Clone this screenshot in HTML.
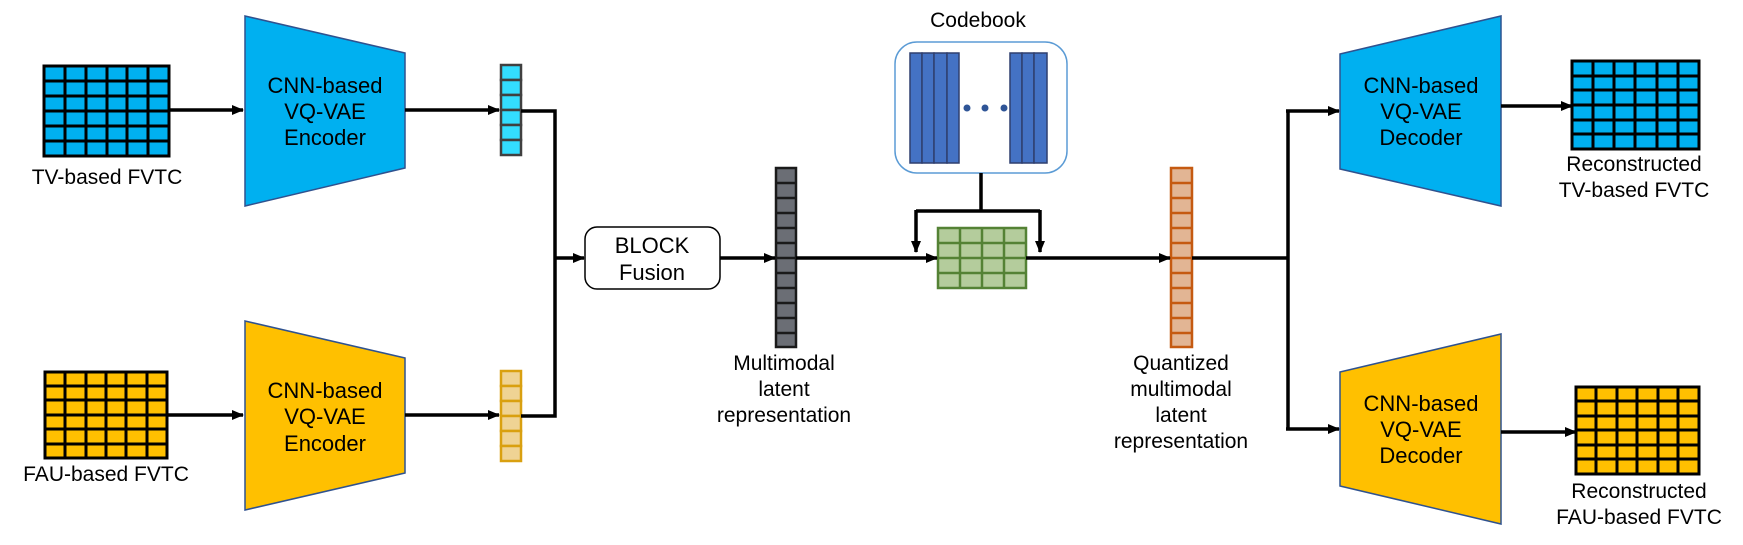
<!DOCTYPE html>
<html><head><meta charset="utf-8"><style>
html,body{margin:0;padding:0;background:#fff;}
svg{display:block;}
text{font-family:"Liberation Sans",sans-serif;font-size:21px;fill:#000;text-anchor:middle;}
.t{font-size:22px;}
</style></head><body>
<svg width="1743" height="545" viewBox="0 0 1743 545" xmlns="http://www.w3.org/2000/svg">
<defs>
<marker id="a" markerWidth="12" markerHeight="10" refX="11" refY="5" orient="auto" markerUnits="userSpaceOnUse">
<path d="M0,0 L12,5 L0,10 Z" fill="#000"/></marker>
<pattern id="gb" x="44" y="66" width="20.8" height="15" patternUnits="userSpaceOnUse"><rect width="20.8" height="15" fill="#00b0f0" stroke="#000" stroke-width="3"/></pattern>
</defs>

<!-- TV grid -->
<g stroke="#000" stroke-width="3">
<rect x="44" y="66" width="125" height="90" fill="#00b0f0"/>
<path d="M65 66V156M86 66V156M107 66V156M127 66V156M148 66V156M44 81H169M44 96H169M44 111H169M44 126H169M44 141H169"/>
<rect x="45" y="372" width="122" height="86" fill="#ffc000"/>
<path d="M65 372V458M86 372V458M106 372V458M126 372V458M147 372V458M45 386H167M45 400H167M45 415H167M45 429H167M45 444H167"/>
<rect x="1572" y="61" width="127" height="88" fill="#00b0f0"/>
<path d="M1593 61V149M1614 61V149M1635 61V149M1657 61V149M1678 61V149M1572 76H1699M1572 90H1699M1572 105H1699M1572 120H1699M1572 134H1699"/>
<rect x="1576" y="387" width="123" height="87" fill="#ffc000"/>
<path d="M1596 387V474M1617 387V474M1637 387V474M1658 387V474M1678 387V474M1576 401H1699M1576 416H1699M1576 430H1699M1576 445H1699M1576 459H1699"/>
</g>
<text x="107" y="184">TV-based FVTC</text>
<text x="106" y="481">FAU-based FVTC</text>
<text x="1634" y="171">Reconstructed</text>
<text x="1634" y="197">TV-based FVTC</text>
<text x="1639" y="498">Reconstructed</text>
<text x="1639" y="524">FAU-based FVTC</text>

<!-- encoders / decoders -->
<g stroke="#2f528f" stroke-width="1.5">
<polygon points="245,16 405,53 405,168 245,206" fill="#00b0f0"/>
<polygon points="245,321 405,358 405,473 245,510" fill="#ffc000"/>
<polygon points="1340,54 1501,16 1501,206 1340,169" fill="#00b0f0"/>
<polygon points="1340,372 1501,334 1501,524 1340,486" fill="#ffc000"/>
</g>
<text class="t" x="325" y="93">CNN-based</text><text class="t" x="325" y="119">VQ-VAE</text><text class="t" x="325" y="145">Encoder</text>
<text class="t" x="325" y="398">CNN-based</text><text class="t" x="325" y="424">VQ-VAE</text><text class="t" x="325" y="451">Encoder</text>
<text class="t" x="1421" y="93">CNN-based</text><text class="t" x="1421" y="119">VQ-VAE</text><text class="t" x="1421" y="145">Decoder</text>
<text class="t" x="1421" y="411">CNN-based</text><text class="t" x="1421" y="437">VQ-VAE</text><text class="t" x="1421" y="463">Decoder</text>

<!-- small vectors -->
<g stroke="#404040" stroke-width="2.5" fill="#33ddff">
<rect x="501" y="65" width="20" height="15"/><rect x="501" y="80" width="20" height="15"/><rect x="501" y="95" width="20" height="15"/><rect x="501" y="110" width="20" height="15"/><rect x="501" y="125" width="20" height="15"/><rect x="501" y="140" width="20" height="15"/>
</g>
<g stroke="#d9a010" stroke-width="2.5" fill="#efd394">
<rect x="501" y="371" width="20" height="15"/><rect x="501" y="386" width="20" height="15"/><rect x="501" y="401" width="20" height="15"/><rect x="501" y="416" width="20" height="15"/><rect x="501" y="431" width="20" height="15"/><rect x="501" y="446" width="20" height="15"/>
</g>

<!-- gray vector -->
<g stroke="#1a1a1a" stroke-width="2.5" fill="#6b6e75">
<rect x="776" y="168" width="20" height="179"/>
<path d="M776 183H796M776 198H796M776 213H796M776 228H796M776 243H796M776 258H796M776 273H796M776 288H796M776 303H796M776 318H796M776 333H796" fill="none"/>
</g>
<text x="784" y="370">Multimodal</text><text x="784" y="396">latent</text><text x="784" y="422">representation</text>

<!-- orange vector -->
<g stroke="#c55a11" stroke-width="2.5" fill="#e2b594">
<rect x="1171" y="168" width="21" height="179"/>
<path d="M1171 183H1192M1171 198H1192M1171 213H1192M1171 228H1192M1171 243H1192M1171 258H1192M1171 273H1192M1171 288H1192M1171 303H1192M1171 318H1192M1171 333H1192" fill="none"/>
</g>
<text x="1181" y="370">Quantized</text><text x="1181" y="396">multimodal</text><text x="1181" y="422">latent</text><text x="1181" y="448">representation</text>

<!-- BLOCK -->
<rect x="585" y="227" width="135" height="62" rx="12" fill="#fff" stroke="#000" stroke-width="1.5"/>
<text class="t" x="652" y="253">BLOCK</text><text class="t" x="652" y="280">Fusion</text>

<!-- codebook -->
<text x="978" y="27">Codebook</text>
<rect x="895" y="42" width="172" height="131" rx="22" fill="#fff" stroke="#5b9bd5" stroke-width="1.5"/>
<g stroke="#2f3f6f" stroke-width="1.5" fill="#4472c4">
<rect x="910" y="53" width="12" height="110"/><rect x="922" y="53" width="12" height="110"/><rect x="934" y="53" width="13" height="110"/><rect x="947" y="53" width="12" height="110"/>
<rect x="1010" y="53" width="12" height="110"/><rect x="1022" y="53" width="12" height="110"/><rect x="1034" y="53" width="13" height="110"/>
</g>
<g fill="#2f5597"><circle cx="967" cy="108" r="3.5"/><circle cx="985" cy="108" r="3.5"/><circle cx="1004" cy="108" r="3.5"/></g>

<!-- green grid -->
<g stroke="#548235" stroke-width="2.5">
<rect x="938" y="228" width="88" height="60" fill="#b4cc9c"/>
<path d="M960 228V288M982 228V288M1004 228V288M938 243H1026M938 258H1026M938 273H1026"/>
</g>

<!-- connectors -->
<g stroke="#000" stroke-width="3.5" fill="none">
<path d="M169 110H243" marker-end="url(#a)"/>
<path d="M405 110H499" marker-end="url(#a)"/>
<path d="M167 415H243" marker-end="url(#a)"/>
<path d="M405 415H499" marker-end="url(#a)"/>
<path d="M521 111H555V416H521"/>
<path d="M555 258H584" marker-end="url(#a)"/>
<path d="M720 258H775" marker-end="url(#a)"/>
<path d="M796 258H937" marker-end="url(#a)"/>
<path d="M1026 258H1170" marker-end="url(#a)"/>
<path d="M981 173V211"/>
<path d="M916 211H1040"/>
<path d="M916 210V252" marker-end="url(#a)"/>
<path d="M1040 210V252" marker-end="url(#a)"/>
<path d="M1192 258H1288"/>
<path d="M1288 111V429"/>
<path d="M1286 111H1339" marker-end="url(#a)"/>
<path d="M1286 429H1339" marker-end="url(#a)"/>
<path d="M1501 106H1572" marker-end="url(#a)"/>
<path d="M1501 432H1576" marker-end="url(#a)"/>
</g>
</svg>
</body></html>
